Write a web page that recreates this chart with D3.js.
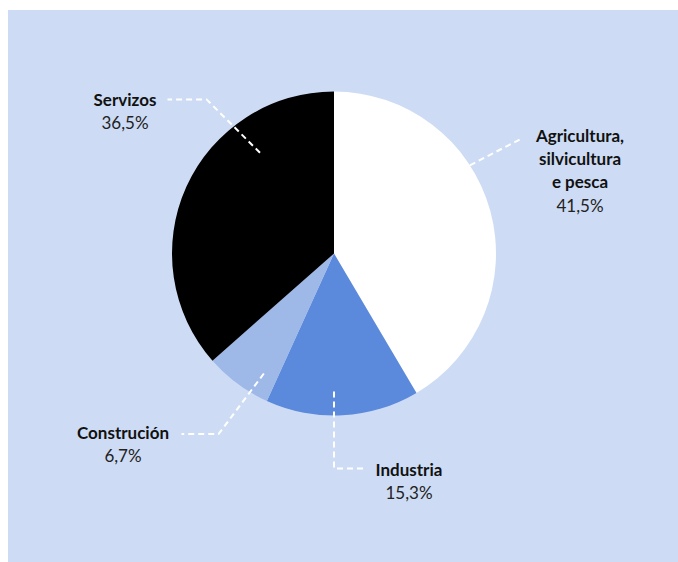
<!DOCTYPE html>
<html>
<head>
<meta charset="utf-8">
<script src="https://cdn.jsdelivr.net/npm/d3@7/dist/d3.min.js"></script>
<style>
  html, body { margin: 0; padding: 0; background: #ffffff; }
  svg { display: block; }
</style>
</head>
<body>
<svg id="chart" width="678" height="562"></svg>
<script>
// Sector shares of the economy (percent), clockwise from 12 o'clock
const sectors = ["Agricultura, silvicultura e pesca", "Industria", "Construción", "Servizos"];
const labelLines = [["Agricultura,", "silvicultura", "e pesca"], ["Industria"], ["Construción"], ["Servizos"]];
const shares = [41.5, 15.3, 6.7, 36.5];
const valueLabels = ["41,5%", "15,3%", "6,7%", "36,5%"];

const sliceColors = ["#ffffff", "#5b89db", "#9eb9e8", "#000000"];

// Leader line layout: polar points (degrees clockwise from top, radius) plus a horizontal run
const leaders = [
  { start: [57, 162], elbow: [58.5, 220], run: 0, text: [580, 141.7] },
  { start: [180, 138], elbow: [180, 215], run: 32, text: [409, 476] },
  { start: [210.3, 139], elbow: [212.6, 214.4], run: -37, text: [123, 439] },
  { start: [323.7, 125], elbow: [320.4, 200], run: -39, text: [125, 105.7] }
];

const W = 678, H = 562;
const cx = 334, cy = 253.5, R = 162;
const lineGap = 23.3;

const svg = d3.select("#chart");

// Background panel
svg.append("rect")
  .attr("x", 8).attr("y", 10)
  .attr("width", W - 8).attr("height", H - 10)
  .attr("fill", "#cddcf4");

const pie = d3.pie().sort(null).value(d => d)
  .startAngle(0).endAngle(2 * Math.PI);
const arc = d3.arc().innerRadius(0).outerRadius(R);

const g = svg.append("g").attr("transform", `translate(${cx},${cy})`);
g.selectAll("path.slice")
  .data(pie(shares))
  .join("path")
  .attr("class", "slice")
  .attr("d", arc)
  .attr("fill", (d, i) => sliceColors[i]);

const polar = ([deg, r]) => {
  const a = deg * Math.PI / 180;
  return [r * Math.sin(a), -r * Math.cos(a)];
};

// Dashed leader lines
const line = d3.line();
g.selectAll("path.leader")
  .data(leaders)
  .join("path")
  .attr("class", "leader")
  .attr("d", d => {
    const p0 = polar(d.start), p1 = polar(d.elbow);
    const pts = [p0, p1];
    if (d.run) pts.push([p1[0] + d.run, p1[1]]);
    return line(pts);
  })
  .attr("fill", "none")
  .attr("stroke", "#ffffff")
  .attr("stroke-width", 2)
  .attr("stroke-dasharray", "6,4");

// Category and value labels
const labels = svg.selectAll("text.label")
  .data(sectors)
  .join("text")
  .attr("class", "label")
  .attr("text-anchor", "middle")
  .attr("font-family", "Lato, 'Open Sans', sans-serif")
  .attr("font-size", 17);

labels.each(function(name, i) {
  const t = d3.select(this);
  const [x, y] = leaders[i].text;
  labelLines[i].forEach((ln, k) => {
    t.append("tspan")
      .attr("x", x).attr("y", y + k * lineGap)
      .attr("font-weight", "bold")
      .attr("fill", "#111111")
      .text(ln);
  });
  t.append("tspan")
    .attr("x", x).attr("y", y + labelLines[i].length * lineGap)
    .attr("fill", "#222222")
    .text(valueLabels[i]);
});
</script>
</body>
</html>
